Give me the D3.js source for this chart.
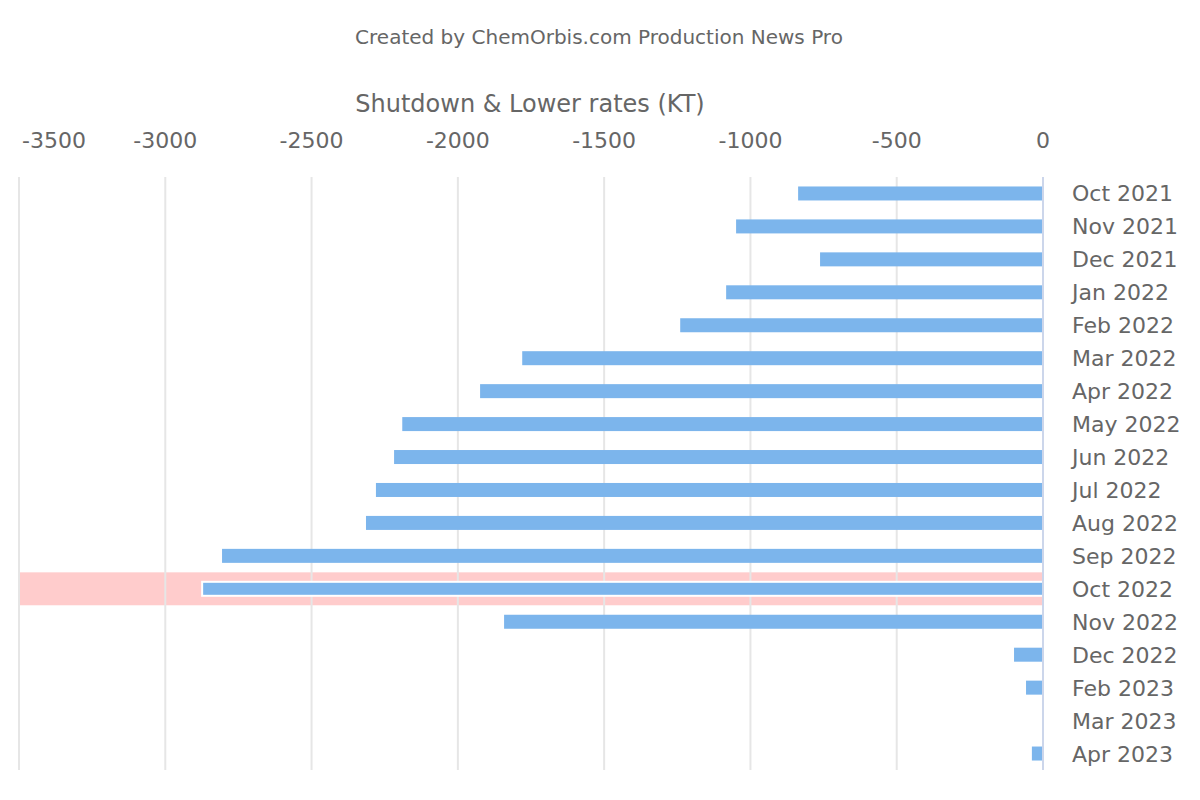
<!DOCTYPE html>
<html>
<head>
<meta charset="utf-8">
<script src="https://cdn.jsdelivr.net/npm/d3@7"></script>
<style>
  body { margin: 0; background: #fff; }
  text { font-family: "DejaVu Sans", sans-serif; fill: #666; }
</style>
</head>
<body>
<script>
// data
const months = ['Oct 2021', 'Nov 2021', 'Dec 2021', 'Jan 2022', 'Feb 2022', 'Mar 2022',
  'Apr 2022', 'May 2022', 'Jun 2022', 'Jul 2022', 'Aug 2022', 'Sep 2022', 'Oct 2022',
  'Nov 2022', 'Dec 2022', 'Feb 2023', 'Mar 2023', 'Apr 2023'];
const shutdowns = [-837, -1049, -762, -1083, -1240, -1780, -1924, -2190, -2218, -2280,
  -2314, -2806, -2874, -1842, -99, -58, 0, -38];
const xTicks = [-3500, -3000, -2500, -2000, -1500, -1000, -500, 0];
const highlighted = 'Oct 2022';

const width = 1200, height = 800;
const plotLeft = 19, plotRight = 1043, plotTop = 177, plotBottom = 770;

const svg = d3.select('body').append('svg')
  .attr('width', width)
  .attr('height', height);

const x = d3.scaleLinear().domain([-3500, 0]).range([plotLeft, plotRight]);
const y = d3.scaleBand().domain(months).range([plotTop, plotBottom]);

// credit + axis title
svg.append('text')
  .attr('x', 599).attr('y', 44)
  .attr('text-anchor', 'middle')
  .style('font-size', '20px')
  .text('Created by ChemOrbis.com Production News Pro');

svg.append('text')
  .attr('x', (plotLeft + plotRight) / 2 - 1).attr('y', 112)
  .attr('text-anchor', 'middle')
  .style('font-size', '24px')
  .text('Shutdown & Lower rates (KT)');

// highlight band
svg.append('rect')
  .attr('x', plotLeft)
  .attr('y', y(highlighted))
  .attr('width', plotRight - plotLeft)
  .attr('height', y.bandwidth())
  .attr('fill', '#ffcccc');

// gridlines
svg.append('g')
  .selectAll('line')
  .data(xTicks.filter(d => d !== 0))
  .join('line')
  .attr('x1', d => x(d)).attr('x2', d => x(d))
  .attr('y1', plotTop).attr('y2', plotBottom)
  .attr('stroke', '#e6e6e6')
  .attr('stroke-width', 2);

// tick labels on top
svg.append('g')
  .selectAll('text')
  .data(xTicks)
  .join('text')
  .attr('x', d => d === -3500 ? 22 : x(d))
  .attr('y', 148)
  .attr('text-anchor', d => d === -3500 ? 'start' : 'middle')
  .style('font-size', '22px')
  .text(d => d);

// bars
const barH = 14;
svg.append('g')
  .selectAll('rect')
  .data(months)
  .join('rect')
  .attr('x', (d, i) => x(shutdowns[i]))
  .attr('y', d => y(d) + y.bandwidth() / 2 - barH / 2)
  .attr('width', (d, i) => x(0) - x(shutdowns[i]))
  .attr('height', barH)
  .attr('fill', '#7cb5ec')
  .attr('stroke', d => d === highlighted ? '#fff' : 'none')
  .attr('stroke-width', 2);

// zero line
svg.append('line')
  .attr('x1', x(0)).attr('x2', x(0))
  .attr('y1', plotTop).attr('y2', plotBottom)
  .attr('stroke', '#ccd6eb')
  .attr('stroke-width', 2);

// category labels on the right
svg.append('g')
  .selectAll('text')
  .data(months)
  .join('text')
  .attr('x', 1072)
  .attr('y', d => y(d) + y.bandwidth() / 2 + 8)
  .style('font-size', '22px')
  .text(d => d);
</script>
</body>
</html>
